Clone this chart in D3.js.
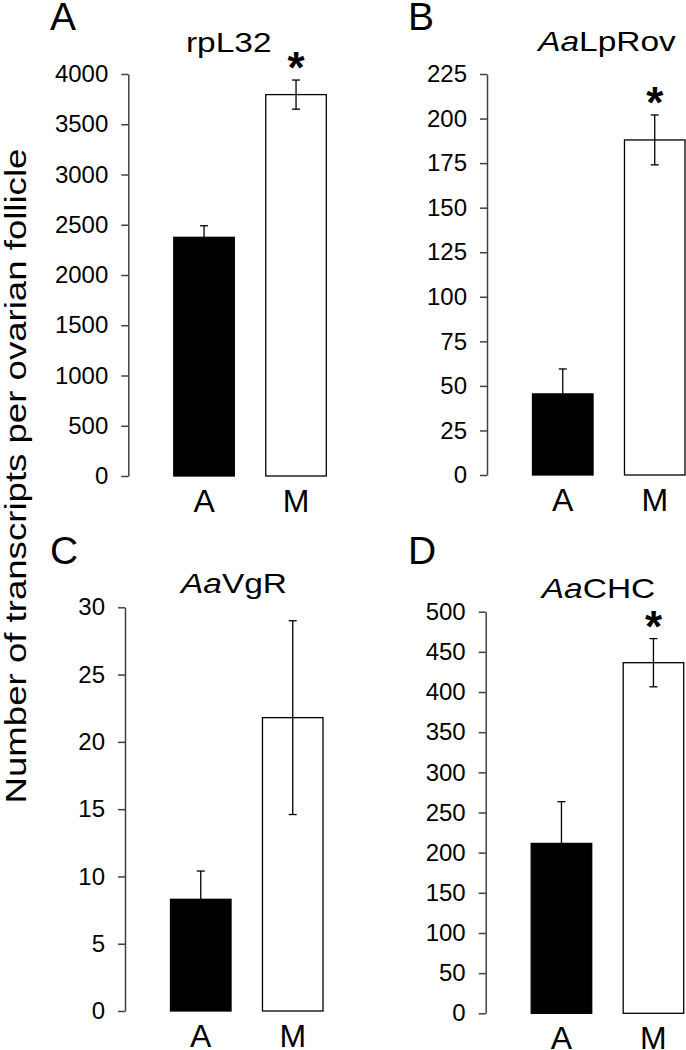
<!DOCTYPE html>
<html>
<head>
<meta charset="utf-8">
<script src="https://cdn.jsdelivr.net/npm/d3@7"></script>
<style>
  html, body { margin: 0; padding: 0; background: #fff; }
  svg { display: block; font-family: "Liberation Sans", Arial, Helvetica, sans-serif; }
</style>
</head>
<body>
<svg id="chart" width="686" height="1050"></svg>
<script>
// ---- data ----
const categories = ["A", "M"];
const panelLetters = ["A", "B", "C", "D"];
const geneItalic = ["", "Aa", "Aa", "Aa"];
const geneNames = ["rpL32", "LpRov", "VgR", "CHC"];

const rpL32Values = [2375, 3795];
const rpL32Errors = [115, 145];
const lpRovValues = [45.5, 188];
const lpRovErrors = [14, 14];
const vgRValues = [8.3, 21.8];
const vgRErrors = [2.1, 7.2];
const chcValues = [211.5, 436.5];
const chcErrors = [52, 30];

const rpL32Ticks = [0, 500, 1000, 1500, 2000, 2500, 3000, 3500, 4000];
const lpRovTicks = [0, 25, 50, 75, 100, 125, 150, 175, 200, 225];
const vgRTicks = [0, 5, 10, 15, 20, 25, 30];
const chcTicks = [0, 50, 100, 150, 200, 250, 300, 350, 400, 450, 500];

const significant = [[false, true], [false, true], [false, false], [false, true]];
const yAxisTitle = "Number of transcripts per ovarian follicle";

const panelValues = [rpL32Values, lpRovValues, vgRValues, chcValues];
const panelErrors = [rpL32Errors, lpRovErrors, vgRErrors, chcErrors];
const panelTicks = [rpL32Ticks, lpRovTicks, vgRTicks, chcTicks];

// ---- layout (pixel geometry) ----
const layout = [
  { axisX: 128.3, yTop: 74,    y0: 476,    letterX: 50,  letterY: 30,  titleX: 228.7, titleY: 51.7 },
  { axisX: 487,   yTop: 74,    y0: 475,    letterX: 408, letterY: 30,  titleX: 607,   titleY: 50.7 },
  { axisX: 125,   yTop: 607.3, y0: 1011,   letterX: 50,  letterY: 564, titleX: 234,   titleY: 593.3 },
  { axisX: 485.7, yTop: 611.7, y0: 1013.3, letterX: 408, letterY: 564, titleX: 598.5, titleY: 598.3 }
];

const svg = d3.select("#chart");

panelLetters.forEach((letter, i) => {
  const L = layout[i];
  const ticks = panelTicks[i];
  const vals = panelValues[i];
  const errs = panelErrors[i];

  const y = d3.scaleLinear()
    .domain([0, d3.max(ticks)])
    .range([L.y0, L.yTop]);

  const x = d3.scaleBand()
    .domain(categories)
    .range([L.axisX + 45.5, L.axisX + 198])
    .paddingInner(0.342)
    .paddingOuter(0);

  const g = svg.append("g");

  // panel letter
  g.append("text")
    .attr("x", L.letterX)
    .attr("y", L.letterY)
    .attr("font-size", 39)
    .attr("fill", "#000")
    .text(letter);

  // title
  const t = g.append("text")
    .attr("transform", `translate(${L.titleX},${L.titleY}) scale(1.24,1)`)
    .attr("text-anchor", "middle")
    .attr("font-size", 27)
    .attr("fill", "#000");
  if (geneItalic[i]) t.append("tspan").attr("font-style", "italic").text(geneItalic[i]);
  t.append("tspan").text(geneNames[i]);

  // y axis
  const axis = d3.axisLeft(y)
    .tickValues(ticks)
    .tickFormat(d3.format("d"))
    .tickSizeInner(7)
    .tickSizeOuter(0)
    .tickPadding(13);
  const ag = g.append("g")
    .attr("transform", `translate(${L.axisX},0)`)
    .call(axis);
  ag.select(".domain").attr("stroke", "#404040").attr("stroke-width", 1.5);
  ag.selectAll(".tick line").attr("stroke", "#404040").attr("stroke-width", 1.5);
  ag.selectAll(".tick text")
    .attr("font-size", 24)
    .attr("font-family", "\"Liberation Sans\", Arial, sans-serif")
    .attr("fill", "#000");

  // bars
  g.selectAll("rect.bar")
    .data(categories)
    .join("rect")
    .attr("class", "bar")
    .attr("x", d => x(d))
    .attr("width", x.bandwidth())
    .attr("y", (d, j) => y(vals[j]))
    .attr("height", (d, j) => y(0) - y(vals[j]))
    .attr("fill", (d, j) => j === 0 ? "#000" : "#fff")
    .attr("stroke", "#000")
    .attr("stroke-width", 1.3);

  // error bars
  const cap = 4;
  categories.forEach((c, j) => {
    const cx = x(c) + x.bandwidth() / 2;
    const hi = y(vals[j] + errs[j]);
    const lo = y(vals[j] - errs[j]);
    g.append("line")
      .attr("x1", cx).attr("x2", cx)
      .attr("y1", hi).attr("y2", lo)
      .attr("stroke", "#000").attr("stroke-width", 1.3);
    [hi, lo].forEach(yy => {
      g.append("line")
        .attr("x1", cx - cap).attr("x2", cx + cap)
        .attr("y1", yy).attr("y2", yy)
        .attr("stroke", "#000").attr("stroke-width", 1.3);
    });
    if (significant[i][j]) {
      g.append("text")
        .attr("x", cx)
        .attr("y", hi - 8)
        .attr("text-anchor", "middle")
        .attr("font-size", 44)
        .attr("font-weight", "bold")
        .attr("dy", "0.55em")
        .attr("transform", `translate(0,${-13})`)
        .text("*");
    }
  });

  // category labels
  g.selectAll("text.cat")
    .data(categories)
    .join("text")
    .attr("class", "cat")
    .attr("x", d => x(d) + x.bandwidth() / 2)
    .attr("y", L.y0 + 35.5)
    .attr("text-anchor", "middle")
    .attr("font-size", 32)
    .attr("fill", "#000")
    .text(d => d);
});

// shared y-axis title
svg.append("text")
  .attr("transform", "translate(26,476) rotate(-90) scale(1.22,1)")
  .attr("text-anchor", "middle")
  .attr("font-size", 30)
  .attr("fill", "#000")
  .text(yAxisTitle);
</script>
</body>
</html>
